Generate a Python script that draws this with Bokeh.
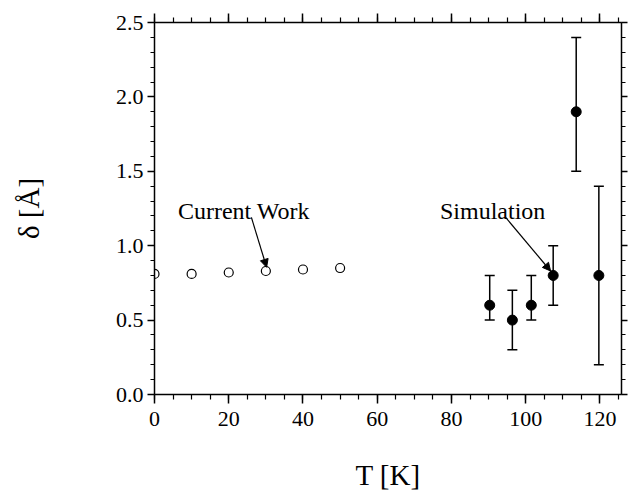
from bokeh.plotting import figure
from bokeh.models import (LinearAxis, SingleIntervalTicker, NumeralTickFormatter, Range1d,
                          ColumnDataSource, Whisker, TeeHead, Arrow, NormalHead,
                          CustomJSTickFormatter)
from bokeh.core.properties import value
from bokeh.embed import file_html
from bokeh.resources import INLINE

# Current work (open circles)
cw_T = [0, 10, 20, 30, 40, 50]
cw_delta = [0.81, 0.81, 0.82, 0.83, 0.84, 0.85]

# Simulation (filled circles with error bars)
sim_T = [90.3, 96.4, 101.5, 107.4, 113.6, 119.7]
sim_delta = [0.6, 0.5, 0.6, 0.8, 1.9, 0.8]
sim_upper = [0.8, 0.7, 0.8, 1.0, 2.4, 1.4]
sim_lower = [0.5, 0.3, 0.5, 0.6, 1.5, 0.2]

# annotations (data units)
labels = ["Current Work", "Simulation"]
label_x = [6.3, 76.9]
label_y = [1.235, 1.235]
arrow_x_start = [26.1, 94.6]
arrow_y_start = [1.19, 1.19]
arrow_x_end = [30.2, 106.7]
arrow_y_end = [0.855, 0.83]

FONT = "Liberation Serif"

p = figure(width=630, height=493, output_backend="svg", toolbar_location=None,
           x_range=Range1d(0, 125.8), y_range=Range1d(0, 2.5))
p.min_border_left = 154
p.min_border_right = 9
p.min_border_top = 22
p.min_border_bottom = 99
p.xgrid.visible = False
p.ygrid.visible = False
p.outline_line_color = None
p.background_fill_color = "white"
p.border_fill_color = "white"

xt = SingleIntervalTicker(interval=20, num_minor_ticks=4)
yt = SingleIntervalTicker(interval=0.5, num_minor_ticks=5)

def style(ax, show_labels):
    ax.axis_line_color = "black"
    ax.axis_line_width = 1.5
    ax.major_tick_line_color = "black"
    ax.minor_tick_line_color = "black"
    ax.major_tick_line_width = 1.5
    ax.minor_tick_line_width = 1.2
    ax.major_label_text_font = FONT
    ax.major_label_text_color = "black"
    ax.axis_label_text_font = FONT
    ax.axis_label_text_font_style = "normal"
    ax.axis_label_text_color = "black"
    if not show_labels:
        ax.formatter = CustomJSTickFormatter(code="return ''")
        ax.major_label_standoff = 0
        ax.axis_label_standoff = 0

xa = p.xaxis[0]
xa.ticker = xt
style(xa, True)
xa.major_tick_out = 9
xa.major_tick_in = 0
xa.minor_tick_out = 5
xa.minor_tick_in = 0
xa.major_label_text_font_size = "22px"
xa.major_label_standoff = 8
xa.axis_label = "T [K]"
xa.axis_label_text_font_size = "29px"
xa.axis_label_standoff = 30

ya = p.yaxis[0]
ya.ticker = yt
style(ya, True)
ya.formatter = NumeralTickFormatter(format="0.0")
ya.major_tick_out = 7
ya.major_tick_in = 0
ya.minor_tick_out = 4
ya.minor_tick_in = 0
ya.major_label_text_font_size = "22px"
ya.major_label_standoff = 4
ya.axis_label = "δ [Å]"
ya.axis_label_text_font_size = "29px"
ya.axis_label_standoff = 68

top = LinearAxis(ticker=SingleIntervalTicker(interval=20, num_minor_ticks=4))
style(top, False)
top.major_tick_out = 9
top.major_tick_in = 0
top.minor_tick_out = 5
top.minor_tick_in = 0
p.add_layout(top, "above")

right = LinearAxis(ticker=SingleIntervalTicker(interval=0.5, num_minor_ticks=5))
style(right, False)
right.major_tick_out = 6
right.major_tick_in = 0
right.minor_tick_out = 4
right.minor_tick_in = 0
p.add_layout(right, "right")

sim_src = ColumnDataSource(dict(T=sim_T, d=sim_delta, up=sim_upper, lo=sim_lower))
w = Whisker(source=sim_src, base="T", upper="up", lower="lo",
            line_color="black", line_width=1.5,
            upper_head=TeeHead(size=10, line_color="black", line_width=1.5),
            lower_head=TeeHead(size=10, line_color="black", line_width=1.5))
p.add_layout(w)
p.scatter("T", "d", source=sim_src, size=10, fill_color="black", line_color="black")

cw_src = ColumnDataSource(dict(T=cw_T, d=cw_delta))
p.scatter("T", "d", source=cw_src, size=9, fill_color="white", line_color="black", line_width=1.2)

p.text(x=label_x, y=label_y, text=labels, text_font=value(FONT), text_font_size="24px",
       text_color="black", text_baseline="alphabetic", text_align="left")

for i in range(len(labels)):
    p.add_layout(Arrow(x_start=arrow_x_start[i], y_start=arrow_y_start[i],
                       x_end=arrow_x_end[i], y_end=arrow_y_end[i],
                       line_color="black", line_width=1.2,
                       end=NormalHead(size=8, fill_color="black", line_color="black")))

open("out.html", "w").write(file_html(p, INLINE))
